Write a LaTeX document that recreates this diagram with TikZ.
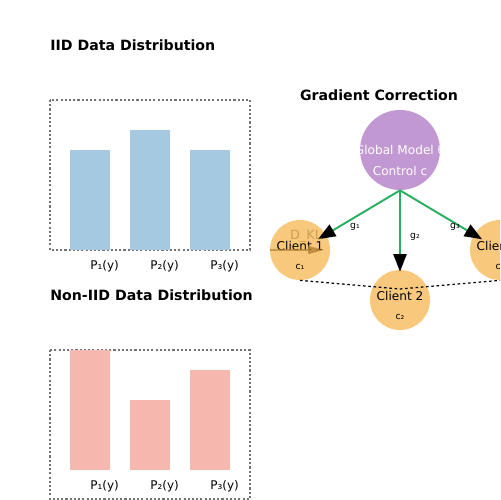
\documentclass[tikz,border=0pt]{standalone}
\usepackage{fontspec}
\setmainfont{DejaVu Sans}
\usetikzlibrary{arrows.meta}
\definecolor{iidblue}{RGB}{166,201,226}
\definecolor{noniidred}{RGB}{245,183,174}
\definecolor{globalpurple}{RGB}{194,152,210}
\definecolor{clientorange}{RGB}{248,200,124}
\definecolor{gradgreen}{RGB}{39,174,96}
\definecolor{klbrown}{RGB}{180,130,50}

\begin{document}
\begin{tikzpicture}[x=0.02cm, y=-0.02cm]
    \tikzstyle{title} = [font=\bfseries\fontsize{8.05}{9}\selectfont, inner sep=0pt]
    \tikzstyle{frame} = [draw=gray!90!black, line width=0.6pt, dash pattern=on 1.2pt off 1.2pt]
    \tikzstyle{plabel} = [font=\fontsize{6.8}{7}\selectfont, inner sep=0pt, anchor=west]
    \tikzstyle{client} = [circle, fill=clientorange, minimum size=1.2cm, inner sep=0pt]
    \tikzstyle{small} = [font=\fontsize{5.3}{6}\selectfont, inner sep=0pt]
    \tikzstyle{grad} = [gradgreen, line width=1.1pt, -{Triangle[black, length=10pt, width=7.5pt]}]
    \useasboundingbox (0,0) rectangle (500,500);
    \clip (0,0) rectangle (500,500);

    % IID
    \node[title, anchor=west] (iidtitle) at (50,45) {IID Data Distribution};
    \draw[frame] (50,100) rectangle (250,250);
    \foreach \x/\h in {70/150, 130/130, 190/150}
        \fill[iidblue] (\x,\h) rectangle (\x+40,250);
    \foreach \i in {1,2,3}
        \node[plabel] (iidp\i) at (30+60*\i,266) {P\char"208\i(y)};

    % Non-IID
    \node[title, anchor=west] (noniidtitle) at (50,295) {Non-IID Data Distribution};
    \draw[frame] (50,350) rectangle (250,499);
    \foreach \x/\h in {70/350, 130/400, 190/370}
        \fill[noniidred] (\x,\h) rectangle (\x+40,470);
    \foreach \i in {1,2,3}
        \node[plabel] (noniidp\i) at (30+60*\i,486) {P\char"208\i(y)};

    % gradient correction
    \node[title] (gctitle) at (379,95) {Gradient Correction};
    \node[circle, fill=globalpurple, minimum size=1.6cm, inner sep=0pt] (global) at (400,150) {};
    \node[font=\fontsize{6.9}{7}\selectfont, text=white] (globaltxt) at (400,150) {Global Model θ};
    \node[font=\fontsize{6.9}{7}\selectfont, text=white] (controltxt) at (400,171) {Control c};

    \foreach \i/\x/\y in {1/300/250, 2/400/300, 3/500/250} {
        \node[client] (c\i) at (\x,\y) {};
        \node[font=\fontsize{6.9}{7}\selectfont] (c\i name) at (\x,\y-4) {Client \i};
        \node[small] (c\i sub) at (\x,\y+17) {c\char"208\i};
    }

    \draw[grad, shorten >=-0.19cm] (global.south) -- (c1);
    \draw[grad, shorten >=-0.04cm] (global.south) -- (c2);
    \draw[grad, shorten >=-0.19cm] (global.south) -- (c3);
    \node[small] (g1) at (355,227) {g\char"2081};
    \node[small] (g2) at (415,237) {g\char"2082};
    \node[small] (g3) at (455,227) {g\char"2083};

    \draw[black, line width=0.7pt, dash pattern=on 1.5pt off 1.5pt] (c1.south) -- (400,289) -- (c3.south);

    % KL term
    \coordinate (klstart) at (270,250);
    \coordinate (klend) at (324,250);
    \node[font=\fontsize{7.3}{8}\selectfont, text=klbrown, opacity=0.6] (kl) at (306,236) {D\_KL};
    \draw[klbrown, opacity=0.7, line width=1.1pt, -{Triangle[length=9pt, width=4.5pt]}] (klstart) -- (klend);
\end{tikzpicture}
\end{document}
